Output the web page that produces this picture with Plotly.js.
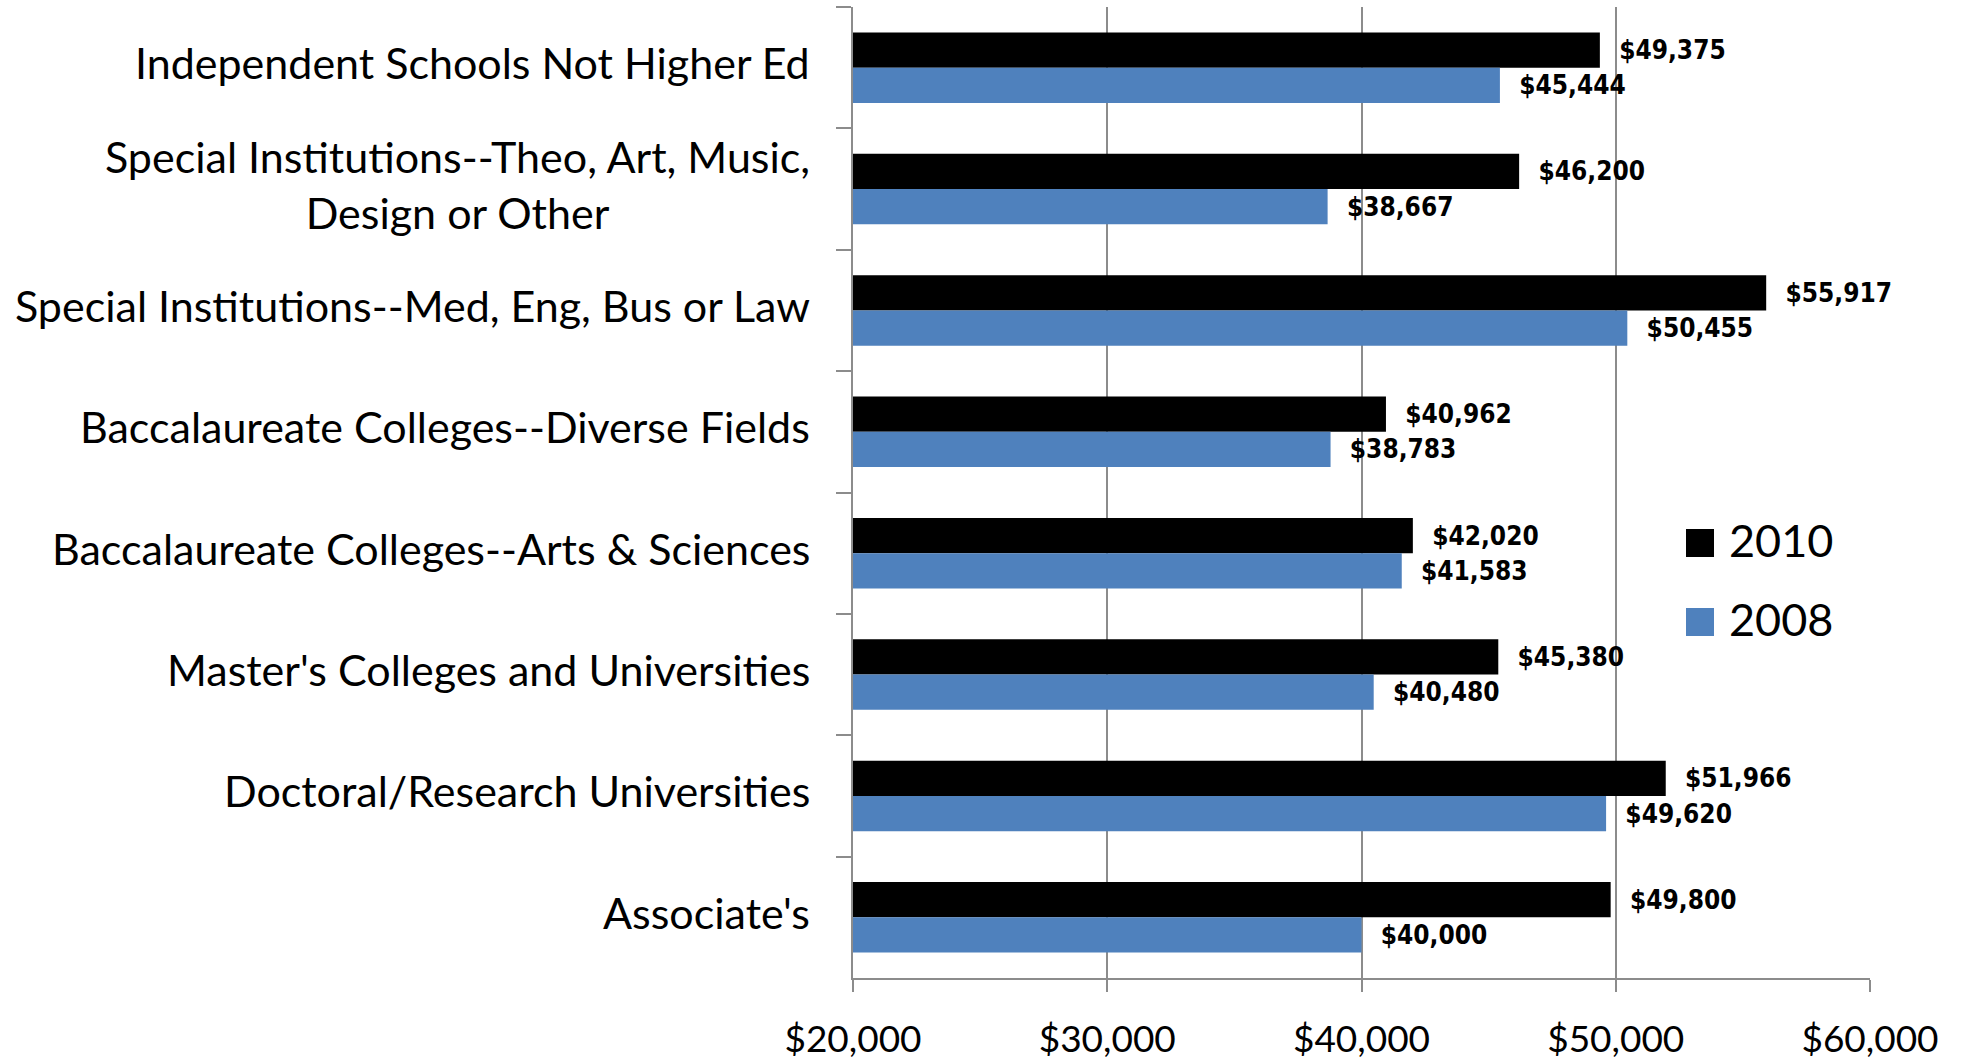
<!DOCTYPE html>
<html>
<head>
<meta charset="utf-8">
<script src="https://cdn.plot.ly/plotly-3.0.1.min.js"></script>
<style>
  html, body { margin: 0; padding: 0; background: #fff; }
  #chart { width: 1963px; height: 1064px; }
</style>
</head>
<body>
<div id="chart"></div>
<script>
// ---- data (top-to-bottom order as shown) ----
const categories = [
  "Independent Schools Not Higher Ed",
  "Special Institutions--Theo, Art, Music,<br>Design or Other",
  "Special Institutions--Med, Eng, Bus or Law",
  "Baccalaureate Colleges--Diverse Fields",
  "Baccalaureate Colleges--Arts & Sciences",
  "Master's Colleges and Universities",
  "Doctoral/Research Universities",
  "Associate's"
];
const values2010 = [49375, 46200, 55917, 40962, 42020, 45380, 51966, 49800];
const values2008 = [45444, 38667, 50455, 38783, 41583, 40480, 49620, 40000];
const seriesNames = ["2010", "2008"];
const xTickValues = [20000, 30000, 40000, 50000, 60000];

// ---- layout constants (pixels) ----
const W = 1963, H = 1064;
const M = { l: 853, r: 93, t: 7, b: 86 };
const plotW = W - M.l - M.r, plotH = H - M.t - M.b;
const px2x = p => (p - M.l) / plotW;
const px2y = p => (H - M.b - p) / plotH;

const colors = ["#000000", "#4F81BD"];
const gridGray = "#8C8C8C";
const labelFont = { family: "DejaVu Sans Condensed, Liberation Sans Narrow, Arial Narrow, sans-serif", size: 26, color: "#000", weight: 700 };

const traces = [values2010, values2008].map((vals, i) => ({
  type: "bar",
  orientation: "h",
  name: seriesNames[i],
  x: vals,
  y: categories,
  marker: { color: colors[i], line: { width: 0 } },
  text: vals,
  texttemplate: "\u00A0\u00A0%{x:$,.0f}",
  textposition: "outside",
  textfont: labelFont,
  constraintext: "none",
  cliponaxis: false,
  showlegend: false,
  hoverinfo: "x+name"
}));

// category labels as annotations (centered multi-line)
const catAnnotations = categories.map(c => ({
  xref: "paper", yref: "y",
  x: px2x(812), y: c,
  xanchor: "right", yanchor: "middle",
  align: "center",
  yshift: 5,
  text: c,
  showarrow: false,
  font: { family: "Lato, sans-serif", size: 43, color: "#000" }
}));

// legend (custom, large swatches)
const legendItems = [
  { name: seriesNames[0], color: colors[0], top: 529, bottom: 557, textY: 540 },
  { name: seriesNames[1], color: colors[1], top: 608, bottom: 636, textY: 619 }
];
const legendShapes = legendItems.map(it => ({
  type: "rect", xref: "paper", yref: "paper",
  x0: px2x(1686), x1: px2x(1714),
  y0: px2y(it.bottom), y1: px2y(it.top),
  fillcolor: it.color, line: { width: 0 }
}));
const legendAnnotations = legendItems.map(it => ({
  xref: "paper", yref: "paper",
  x: px2x(1727), y: px2y(it.textY),
  xanchor: "left", yanchor: "middle",
  text: it.name, showarrow: false,
  font: { family: "Lato, sans-serif", size: 45, color: "#000" }
}));

const layout = {
  width: W, height: H,
  margin: M,
  paper_bgcolor: "#fff",
  plot_bgcolor: "#fff",
  barmode: "group",
  bargap: 0.42,
  bargroupgap: 0,
  font: { family: "Lato, sans-serif", color: "#000" },
  xaxis: {
    range: [20000, 60000],
    tickvals: xTickValues,
    tickformat: "$,.0f",
    showgrid: true, gridcolor: gridGray, gridwidth: 2,
    showline: true, linecolor: gridGray, linewidth: 2,
    ticks: "outside", ticklen: 12, tickwidth: 2, tickcolor: gridGray,
    tickfont: { family: "Lato, sans-serif", size: 37, color: "#000" },
    ticklabelstandoff: 16,
    zeroline: false,
    fixedrange: true
  },
  yaxis: {
    type: "category",
    autorange: "reversed",
    showticklabels: false,
    showgrid: false,
    showline: true, linecolor: gridGray, linewidth: 2,
    ticks: "outside", tickson: "boundaries", ticklen: 15, tickwidth: 2, tickcolor: gridGray,
    zeroline: false,
    fixedrange: true
  },
  shapes: legendShapes,
  annotations: catAnnotations.concat(legendAnnotations),
  showlegend: false
};

Plotly.newPlot("chart", traces, layout, { displayModeBar: false, staticPlot: true });
</script>
</body>
</html>
